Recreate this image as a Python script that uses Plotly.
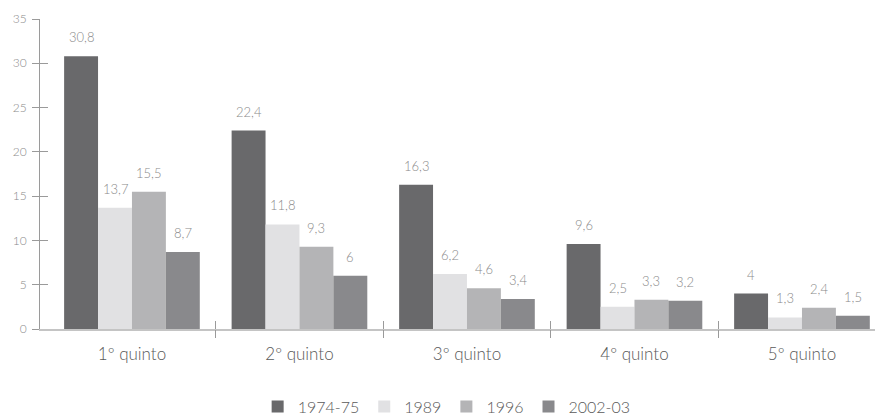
import plotly.graph_objects as go

# Participação por quinto de renda, em quatro períodos
categories = ["1º quinto", "2º quinto", "3º quinto", "4º quinto", "5º quinto"]
series_names = ["1974-75", "1989", "1996", "2002-03"]
v_1974 = [30.8, 22.4, 16.3, 9.6, 4]
v_1989 = [13.7, 11.8, 6.2, 2.5, 1.3]
v_1996 = [15.5, 9.3, 4.6, 3.3, 2.4]
v_2002 = [8.7, 6, 3.4, 3.2, 1.5]
y_ticks = [0, 5, 10, 15, 20, 25, 30, 35]

series_values = [v_1974, v_1989, v_1996, v_2002]
colors = ["#69696b", "#e1e1e3", "#b4b4b6", "#89898c"]

FONT = "Lato"
WEIGHT = 300
LABEL_GRAY = "#8a8a8a"
TEXT_DARK = "#5a5a5a"
AXIS_GRAY = "#9a9a9a"

x_idx = list(range(len(categories)))
boundaries = [i + 0.5 for i in x_idx[:-1]]
x_range = [-0.549, 4.436]
y_range = [0, 35]
bargap = 0.19


def fmt(v):
    s = f"{v:g}"
    return s.replace(".", ",")


fig = go.Figure()
for name, vals, col in zip(series_names, series_values, colors):
    fig.add_trace(go.Bar(
        x=x_idx, y=vals, name=name,
        marker=dict(color=col, line=dict(width=0)),
    ))

# value labels above each bar, placed at the grouped-bar offsets
n = len(series_names)
bar_w = (1 - bargap) / n
annotations = []
for j, vals in enumerate(series_values):
    off = (j - (n - 1) / 2) * bar_w
    for i, v in enumerate(vals):
        annotations.append(dict(
            x=i + off, y=v, xref="x", yref="y", text=fmt(v),
            showarrow=False, yanchor="bottom", yshift=9,
            font=dict(family=FONT, size=13, color=LABEL_GRAY, weight=WEIGHT),
        ))

fig.update_layout(
    width=875, height=415,
    margin=dict(l=40, r=0, t=19, b=86, autoexpand=False),
    paper_bgcolor="white", plot_bgcolor="white",
    barmode="group", bargap=bargap, bargroupgap=0,
    showlegend=True,
    legend=dict(
        orientation="h", x=0.487, xanchor="center",
        yref="container", y=0.02, yanchor="middle",
        font=dict(family=FONT, size=16, color=TEXT_DARK, weight=WEIGHT),
        itemwidth=30, traceorder="normal",
    ),
    annotations=annotations,
    xaxis=dict(
        range=x_range, tickmode="array", tickvals=x_idx, ticktext=categories,
        ticks="", showgrid=False, zeroline=False,
        showline=True, linecolor="#c4c4c4", linewidth=2,
        tickfont=dict(family=FONT, size=17, color=TEXT_DARK, weight=WEIGHT),
        ticklabelstandoff=9,
    ),
    xaxis2=dict(
        overlaying="x", anchor="y", range=x_range, tickmode="array",
        tickvals=boundaries, ticks="outside", ticklen=8, tickwidth=1,
        tickcolor=AXIS_GRAY, showticklabels=False, showgrid=False,
        zeroline=False, showline=False,
    ),
    xaxis3=dict(
        overlaying="x", anchor="y", range=x_range, tickmode="array",
        tickvals=boundaries, ticks="inside", ticklen=8, tickwidth=1,
        tickcolor=AXIS_GRAY, showticklabels=False, showgrid=False,
        zeroline=False, showline=False,
    ),
    yaxis=dict(
        range=y_range, tickmode="array", tickvals=y_ticks,
        ticks="outside", ticklen=7, tickwidth=1, tickcolor=AXIS_GRAY,
        showgrid=False, zeroline=False,
        showline=True, linecolor=AXIS_GRAY, linewidth=1,
        tickfont=dict(family=FONT, size=12, color=LABEL_GRAY, weight=WEIGHT),
        ticklabelstandoff=3,
    ),
    yaxis2=dict(
        overlaying="y", anchor="x", range=y_range, tickmode="array",
        tickvals=y_ticks, ticks="inside", ticklen=8, tickwidth=1,
        tickcolor=AXIS_GRAY, showticklabels=False, showgrid=False,
        zeroline=False, showline=False,
    ),
)

# empty traces so the overlay axes are laid out
fig.add_trace(go.Scatter(x=[], y=[], xaxis="x2", yaxis="y2", showlegend=False, hoverinfo="skip"))
fig.add_trace(go.Scatter(x=[], y=[], xaxis="x3", yaxis="y2", showlegend=False, hoverinfo="skip"))

fig.write_html("out.html")
